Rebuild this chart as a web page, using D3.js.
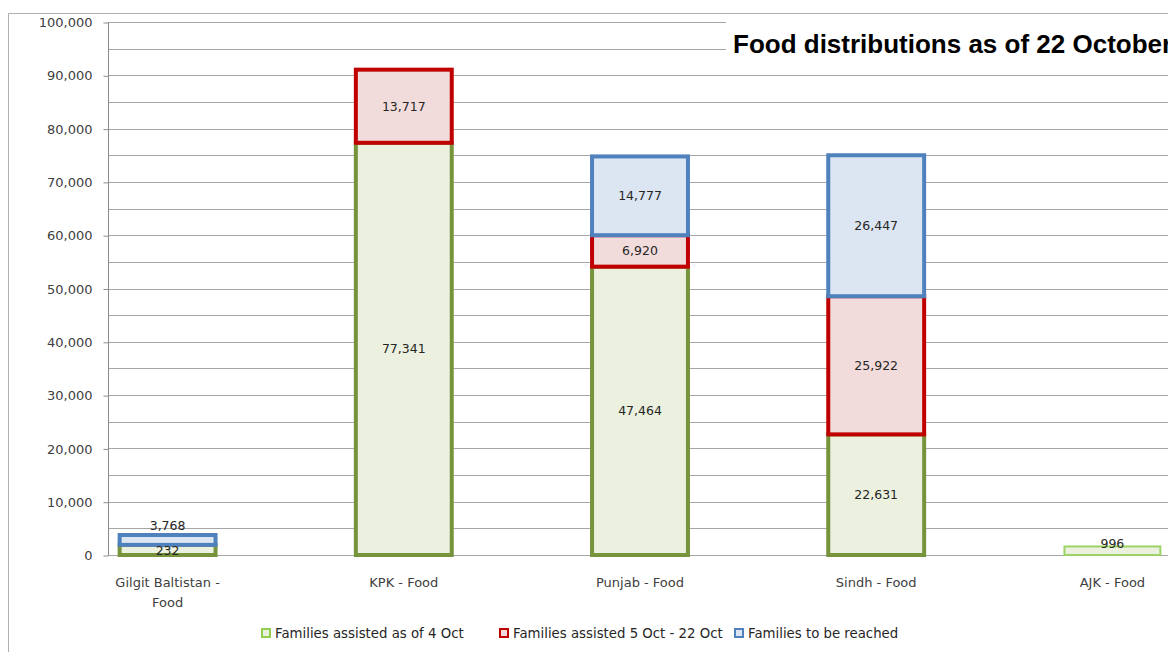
<!DOCTYPE html>
<html>
<head>
<meta charset="utf-8">
<script src="https://cdn.jsdelivr.net/npm/d3@7"></script>
<style>
  body { margin: 0; background: #fff; }
  svg text { font-family: "DejaVu Sans", Verdana, sans-serif; }
</style>
</head>
<body>
<div id="chart"></div>
<script>
// categories and series (heights)
var categories = ['Gilgit Baltistan  - Food', 'KPK - Food', 'Punjab - Food', 'Sindh - Food', 'AJK - Food'];
var categoryLines = [['Gilgit Baltistan  -', 'Food'], ['KPK - Food'], ['Punjab - Food'], ['Sindh - Food'], ['AJK - Food']];
var seriesNames = ['Families assisted as of 4 Oct', 'Families assisted 5 Oct - 22 Oct', 'Families to be reached'];
var assistedTo4Oct = [1900, 77341, 54100, 22631, 1600];
var assisted5to22Oct = [null, 13717, 5900, 25922, null];
var toBeReached = [1850, 0, 14777, 26447, null];
// data label texts shown on the bars
var labelsTo4Oct = ['232', '77,341', '47,464', '22,631', '996'];
var labels5to22Oct = ['', '13,717', '6,920', '25,922', ''];
var labelsToReach = ['3,768', '', '14,777', '26,447', ''];
var yTicks = [0, 10000, 20000, 30000, 40000, 50000, 60000, 70000, 80000, 90000, 100000];
var yGrid = d3.range(0, 100001, 5000);

var W = 1168, H = 652;
var mLeft = 108, mTop = 22, mBottom = 555;

var svg = d3.select('#chart').append('svg')
  .attr('width', W)
  .attr('height', H);

// outer chart border
svg.append('path')
  .attr('d', 'M8.5,' + H + ' V13.5 H' + W)
  .attr('fill', 'none')
  .attr('stroke', '#b0b0b0')
  .attr('stroke-width', 1);

var x = d3.scaleBand()
  .domain(categories)
  .range([49.5, 49.5 + 5 * 236.2])
  .paddingInner(0.594)
  .paddingOuter(0.297);

var y = d3.scaleLinear()
  .domain([0, 100000])
  .range([mBottom, mTop]);

// gridlines
svg.append('g').selectAll('line')
  .data(yGrid)
  .enter().append('line')
  .attr('x1', mLeft)
  .attr('x2', W)
  .attr('y1', d => Math.round(y(d)) + 0.5)
  .attr('y2', d => Math.round(y(d)) + 0.5)
  .attr('stroke', '#a6a6a6')
  .attr('stroke-width', 1);

// y axis
var yAxis = d3.axisLeft(y)
  .tickValues(yTicks)
  .tickSize(5)
  .tickPadding(11)
  .tickFormat(d3.format(','));

var yg = svg.append('g')
  .attr('transform', 'translate(' + (mLeft + 0.5) + ',0.5)')
  .call(yAxis);
yg.selectAll('line').attr('stroke', '#8c8c8c');
yg.select('.domain').attr('stroke', '#8c8c8c').attr('d', 'M0,' + mTop + 'V' + mBottom);
yg.selectAll('text')
  .attr('fill', '#404040')
  .style('font-family', '"DejaVu Sans", Verdana, sans-serif')
  .style('font-size', '13px');

// stacked bars
var rows = categories.map(function(c, i) {
  return { cat: c, a: assistedTo4Oct[i] || 0, b: assisted5to22Oct[i] || 0, c: toBeReached[i] || 0 };
});
var stack = d3.stack().keys(['a', 'b', 'c']).offset(d3.stackOffsetDiverging);
var stacked = stack(rows);

var raw = [assistedTo4Oct, assisted5to22Oct, toBeReached];
var labelTexts = [labelsTo4Oct, labels5to22Oct, labelsToReach];
var fills = ['#ebf1de', '#f2dcdb', '#dce6f2'];
var strokes = ['#77933c', '#c00000', '#4f81bd'];

stacked.forEach(function(series, si) {
  var g = svg.append('g');
  series.forEach(function(d, i) {
    if (raw[si][i] === null) return;
    var ajk = (si === 0 && i === 4);
    g.append('rect')
      .attr('x', x(categories[i]))
      .attr('width', x.bandwidth())
      .attr('y', y(d[1]))
      .attr('height', Math.max(0, y(d[0]) - y(d[1])))
      .attr('fill', fills[si])
      .attr('stroke', ajk ? '#9bd464' : strokes[si])
      .attr('stroke-width', ajk ? 2 : 4);
  });
});

// data labels
stacked.forEach(function(series, si) {
  series.forEach(function(d, i) {
    var t = labelTexts[si][i];
    if (!t) return;
    var cy = (y(d[0]) + y(d[1])) / 2 + 4.5;
    if (i === 0 && si === 2) cy = y(d[1]) - 5;
    if (i === 0 && si === 0) cy = 555;
    if (i === 4) cy = 548;
    svg.append('text')
      .attr('x', x(categories[i]) + x.bandwidth() / 2)
      .attr('y', cy)
      .attr('text-anchor', 'middle')
      .attr('fill', '#262626')
      .style('font-size', '12.5px')
      .text(t);
  });
});

// category labels
categoryLines.forEach(function(lines, i) {
  var t = svg.append('text')
    .attr('x', x(categories[i]) + x.bandwidth() / 2)
    .attr('y', 587)
    .attr('text-anchor', 'middle')
    .attr('fill', '#404040')
    .style('font-size', '13px');
  lines.forEach(function(l, k) {
    t.append('tspan')
      .attr('x', x(categories[i]) + x.bandwidth() / 2)
      .attr('dy', k === 0 ? 0 : 20)
      .text(l);
  });
});

// title box
svg.append('rect')
  .attr('x', 726)
  .attr('y', 17)
  .attr('width', W - 726)
  .attr('height', 53)
  .attr('fill', '#fff');
var title = svg.append('text')
  .attr('x', 733)
  .attr('y', 53)
  .attr('fill', '#000')
  .style('font-family', '"Liberation Sans", Arial, sans-serif')
  .style('font-weight', 'bold')
  .style('font-size', '21px')
  .text('Food distributions as of 22 October');
// fit width so "Octobe" ends near the right edge like the original
var probe = svg.append('text')
  .style('font-family', '"Liberation Sans", Arial, sans-serif')
  .style('font-weight', 'bold')
  .style('font-size', '21px')
  .text('Food distributions as of 22 Octobe');
var pw = probe.node().getComputedTextLength();
probe.remove();
title.style('font-size', (21 * 429 / pw).toFixed(2) + 'px');

// legend
var legendX = [262, 500, 735];
var legendStroke = ['#92d050', '#c00000', '#4f81bd'];
var legend = svg.append('g');
seriesNames.forEach(function(name, i) {
  legend.append('rect')
    .attr('x', legendX[i])
    .attr('y', 629)
    .attr('width', 8)
    .attr('height', 8)
    .attr('fill', fills[i])
    .attr('stroke', legendStroke[i])
    .attr('stroke-width', 2);
  legend.append('text')
    .attr('x', legendX[i] + 13)
    .attr('y', 638)
    .attr('fill', '#262626')
    .style('font-size', '13.3px')
    .text(name);
});
</script>
</body>
</html>
